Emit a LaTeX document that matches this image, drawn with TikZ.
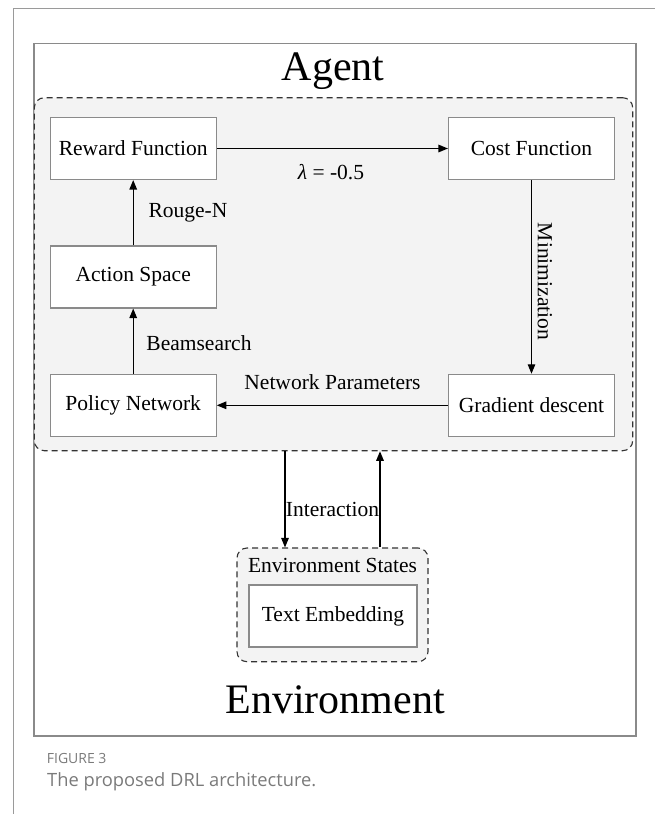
\documentclass[tikz,border=0pt]{standalone}
\usepackage{fontspec}
\setmainfont{Liberation Serif}
\newfontfamily\capfont{Open Sans}
\usetikzlibrary{arrows.meta}
\definecolor{framegray}{HTML}{9A9A9A}
\definecolor{boxgray}{HTML}{8A8A8A}
\definecolor{fillgray}{HTML}{F3F3F3}
\definecolor{capgray}{HTML}{7A7A7A}
\tikzset{
  stepbox/.style={draw=boxgray, line width=1.1pt, fill=white, minimum width=166pt, minimum height=62pt, inner sep=0pt, font=\fontsize{21.5}{24}\selectfont},
  dashbox/.style={draw=black!80, line width=1.1pt, dash pattern=on 6pt off 4pt, rounded corners=10pt, fill=fillgray, inner sep=0pt},
  lbl/.style={inner sep=0pt, font=\fontsize{21.5}{24}\selectfont},
  big/.style={inner sep=0pt, font=\fontsize{42}{46}\selectfont},
  arr/.style={line width=1.3pt, -{Triangle[length=9.5pt,width=7.5pt]}}
}
\begin{document}
\begin{tikzpicture}[x=1pt,y=-1pt]
\useasboundingbox (0,0) rectangle (655,814);
% page frame
\draw[framegray, line width=1.4pt] (13.3,814) -- (13.3,8.3) -- (655,8.3);
% figure frame
\draw[boxgray, line width=1.1pt] (34,43.3) rectangle (636,736);
% agent region
\node[dashbox, minimum width=598.4pt, minimum height=353pt] (agent) at (333.5,274.2) {};
\node[big] (agentlbl) at (333.3,71) {Agent};
% boxes
\node[stepbox] (reward) at (133.2,148.5) {Reward Function};
\node[stepbox] (cost) at (531.5,148.5) {Cost Function};
\node[stepbox] (action) at (133.2,277) {Action Space};
\node[stepbox] (policy) at (133.2,405.3) {Policy Network};
\node[stepbox] (grad) at (531.5,405.3) {Gradient descent};
% arrows inside agent
\draw[arr] (reward) -- (cost);
\draw[arr] (cost) -- (grad);
\draw[arr] (grad) -- (policy);
\draw[arr] (policy) -- (action);
\draw[arr] (action) -- (reward);
% labels
\node[lbl] (lam) at (331,172) {{\itshape λ} = -0.5};
\node[lbl] (rouge) at (188,212.3) {Rouge-N};
\node[lbl] (beam) at (199,343) {Beamsearch};
\node[lbl] (netp) at (332.5,382.3) {Network Parameters};
\node[lbl, rotate=-90] (mini) at (545,281.5) {Minimization};
% environment
\node[dashbox, minimum width=191pt, minimum height=113.7pt] (env) at (332.5,604.85) {};
\node[lbl] (envst) at (332.5,565.5) {Environment States};
\node[stepbox, minimum width=168pt] (textemb) at (333,616) {Text Embedding};
\node[big] (envlbl) at (335,700) {Environment};
% interaction
\coordinate (downx) at (285,0);
\coordinate (upx) at (380,0);
\draw[arr] (agent.south -| downx) -- (env.north -| downx);
\draw[arr] (env.north -| upx) -- (agent.south -| upx);
\node[lbl] (inter) at (332.5,509) {Interaction};
% caption
\node[anchor=base west, inner sep=0pt, text=capgray, font=\capfont\fontsize{14}{16}\selectfont] (fig) at (46.7,763.3) {FIGURE 3};
\node[anchor=base west, inner sep=0pt, text=capgray, font=\capfont\fontsize{18.3}{21}\selectfont] (cap) at (47,786) {The proposed DRL architecture.};
\end{tikzpicture}
\end{document}
